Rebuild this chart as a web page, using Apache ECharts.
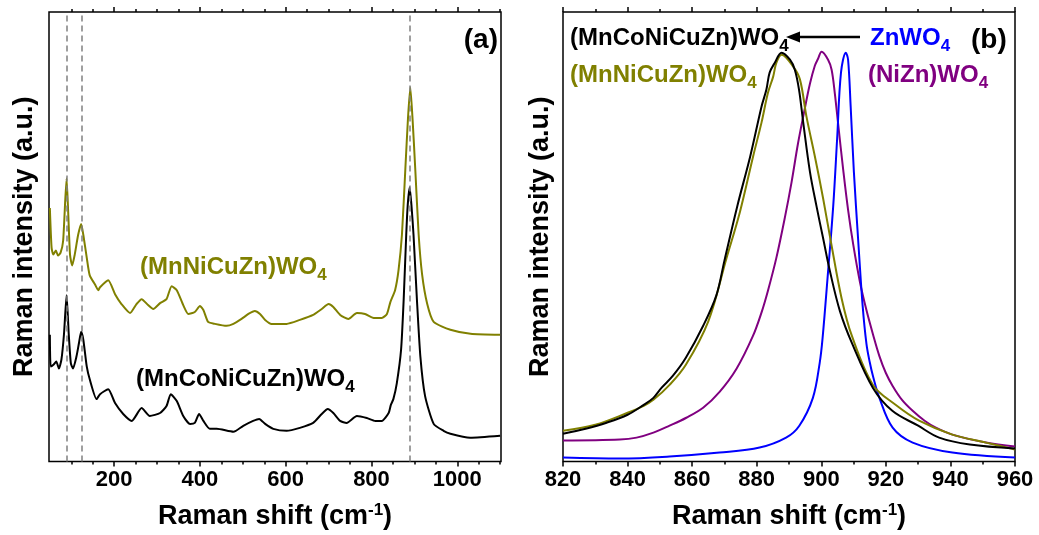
<!DOCTYPE html>
<html>
<head>
<meta charset="utf-8">
<script src="https://cdn.jsdelivr.net/npm/echarts@6/dist/echarts.min.js"></script>
<style>
html,body{margin:0;padding:0;background:#fff;}
#c{width:1039px;height:535px;}
</style>
</head>
<body>
<div id="c"></div>
<script>
// ---------- Panel (a): wide-range Raman spectra (x: cm-1, y: a.u.) ----------
const blackA = [[50,128],[52,96],[59,98],[65,101],[71,94],[77,103],[83,129],[89,168],[94,129],[99,99],[104,94],[112,106],[118,120],[123,131],[128,123],[136,96],[143,83],[159,63],[167,68],[186,73],[202,59],[221,48],[241,41],[264,54],[283,46],[307,49],[322,56],[332,68],[346,61],[361,46],[377,38],[388,39],[398,48],[408,41],[423,33],[439,33],[478,30],[501,36],[524,41],[538,43],[552,38],[571,33],[602,31],[633,34],[664,39],[684,48],[698,53],[711,49],[727,41],[742,39],[766,46],[789,44],[809,41],[824,41],[840,49],[845,57],[851,63],[859,79],[869,113],[875,163],[881,229],[884.5,259],[889,277],[893.5,257],[898,229],[906,163],[914,106],[925,66],[945,38],[968,31],[984,28],[1030,24],[1100,26]];
const oliveA = [[50,256],[54,216],[58,209],[64,213],[69,208],[75,211],[81,223],[89,286],[93,249],[97,209],[102,198],[108,209],[116,229],[123,240],[128,229],[136,206],[143,188],[155,179],[163,173],[167,176],[186,183],[202,169],[217,159],[237,150],[252,159],[264,164],[279,158],[291,154],[307,160],[322,164],[334,177],[346,173],[361,158],[373,149],[388,151],[400,157],[408,153],[419,141],[435,139],[462,137],[478,139],[497,144],[513,149],[528,152],[540,149],[552,143],[567,139],[602,139],[633,143],[664,148],[684,154],[700,159],[711,156],[727,148],[746,144],[766,150],[785,149],[805,145],[824,145],[836,149],[844,161],[855,173],[863,193],[871,229],[879,296],[885,346],[890.5,378],[896,344],[902,296],[910,229],[918,189],[930,159],[945,141],[984,133],[1031,129],[1100,128]];
const dashedA = [90, 124, 889];
const ticksMajorA = [200, 400, 600, 800, 1000];
const ticksMinorA = [100,150,250,300,350,450,500,550,650,700,750,850,900,950,1050,1100];

// ---------- Panel (b): zoom on main band ----------
const blackB = [[820,28],[827,33],[833.5,39],[840,47],[845,57],[848,64],[850.5,74],[854,86],[858,104],[863.5,137],[867.5,167],[870,202],[874,257],[878,307],[881.5,357],[883,374],[884,391],[885.6,401],[887.7,411],[890.3,404],[891.8,394],[893.1,374],[894.4,341],[896.5,291],[898.5,257],[900.6,224],[902.7,191],[905.8,151],[909.5,119],[916,74],[922,51],[930,36],[936.5,24],[946,17],[960,13]];
const oliveB = [[820,31],[830,37],[840,49],[845,56],[848,62],[853,77],[858,97],[865,141],[870.6,204],[874.8,251],[878.9,307],[881.5,341],[883.5,371],[885.1,387],[886.1,401],[887.7,409],[891.3,397],[893.4,384],[895.4,347],[898,307],[900.6,264],[903.2,217],[906.3,164],[909.4,127],[916,77],[923,57],[930.3,41],[940.6,27],[951,19],[960,12]];
const purpleB = [[820,21],[837.6,22],[842.8,24],[848,29],[853,36],[858.2,44],[863.4,54],[868.5,70],[873.7,93],[878.8,126],[881.5,150],[883.5,172],[886.1,205],[888.7,245],[890.8,281],[892.8,320],[894.9,355],[896.5,380],[898,398],[899,405],[900.1,412],[902.1,404],[903.2,394],[904.2,370],[905.2,340],[906.8,293],[908.3,253],[909.9,218],[912,180],[914,152],[916,128],[918,106],[920,89],[922.1,76],[925,62],[928.3,51],[932,41],[935.5,34],[940.6,27],[951,19],[960,15]];
const blueB = [[820,4],[837.6,3],[853,5],[868.5,9],[880.9,14],[889.1,24],[893.2,36],[897.4,64],[899.5,99],[900.4,124],[902.1,191],[903.7,257],[904.9,324],[906.1,391],[907.6,411],[908.3,404],[909.1,357],[910.1,291],[911.4,224],[912.8,157],[914,118],[915,100],[916,86],[918,64],[922.1,34],[928.3,19],[940.6,9],[960,4]];

const FONT = '"Liberation Sans", Arial, Helvetica, sans-serif';
const OLIVE = '#808000', PURPLE = '#800080', BLUE = '#0000ff', BLACK = '#000000';

const chart = echarts.init(document.getElementById('c'), null, {renderer: 'canvas'});

const tickStyle = {color: '#000', width: 1.5};
const labelStyle = {color: '#000', fontSize: 22, fontWeight: 'bold', fontFamily: FONT, margin: 7,
  formatter: v => String(v)};
const axisNameStyle = {
  color: '#000', fontSize: 27, fontWeight: 'bold', fontFamily: FONT,
  rich: {
    m: {fontSize: 27, fontWeight: 'bold', fontFamily: FONT, color: '#000', lineHeight: 30},
    s: {fontSize: 17, fontWeight: 'bold', fontFamily: FONT, color: '#000', lineHeight: 8, verticalAlign: 'top'}
  }
};
const xName = '{m|Raman shift (cm}{s|-1}{m|)}';

function xAx(grid, pos, opts) {
  return Object.assign({
    type: 'value', gridIndex: grid, position: pos,
    axisLine: {show: false},
    splitLine: {show: false},
    axisLabel: {show: false},
    axisTick: {show: false}
  }, opts);
}

function lab(text, x, y, color) {
  return {
    type: 'text', left: x, top: y, z: 100,
    style: {
      text: text,
      rich: {
        m: {fontSize: 24, fontWeight: 'bold', fontFamily: FONT, fill: color, lineHeight: 24, verticalAlign: 'top'},
        s: {fontSize: 17, fontWeight: 'bold', fontFamily: FONT, fill: color, lineHeight: 17,
            verticalAlign: 'top', padding: [12, 0, 0, 0]}
      }
    }
  };
}

const lineSeries = (xi, yi, data, color, z, smooth) => ({
  type: 'line', xAxisIndex: xi, yAxisIndex: yi, data: data, showSymbol: false, symbol: 'none',
  smooth: smooth, lineStyle: {color: color, width: 2}, z: z
});

const option = {
  animation: false,
  backgroundColor: '#fff',
  grid: [
    {left: 49, top: 12, width: 452, height: 454, show: true, borderColor: '#000', borderWidth: 1.5, containLabel: false},
    {left: 563, top: 12, width: 452, height: 452, show: true, borderColor: '#000', borderWidth: 1.5, containLabel: false}
  ],
  xAxis: [
    xAx(0, 'bottom', {min: 48, max: 1102,
      axisTick: {show: true, customValues: ticksMajorA, length: 5, lineStyle: tickStyle},
      axisLabel: Object.assign({show: true, customValues: ticksMajorA}, labelStyle),
      name: xName, nameLocation: 'middle', nameGap: 40, nameTextStyle: axisNameStyle}),
    xAx(0, 'bottom', {min: 48, max: 1102,
      axisTick: {show: true, customValues: ticksMinorA, length: 3, lineStyle: tickStyle}}),
    xAx(0, 'top', {min: 48, max: 1102,
      axisTick: {show: true, customValues: ticksMajorA, length: 5, lineStyle: tickStyle}}),
    xAx(0, 'top', {min: 48, max: 1102,
      axisTick: {show: true, customValues: ticksMinorA, length: 3, lineStyle: tickStyle}}),
    xAx(1, 'bottom', {min: 820, max: 960, interval: 20,
      axisTick: {show: true, length: 5, lineStyle: tickStyle},
      minorTick: {show: true, splitNumber: 2, length: 3, lineStyle: tickStyle},
      axisLabel: Object.assign({show: true}, labelStyle),
      name: xName, nameLocation: 'middle', nameGap: 40, nameTextStyle: axisNameStyle}),
    xAx(1, 'top', {min: 820, max: 960, interval: 20,
      axisTick: {show: true, length: 5, lineStyle: tickStyle},
      minorTick: {show: true, splitNumber: 2, length: 3, lineStyle: tickStyle}})
  ],
  yAxis: [
    {type: 'value', gridIndex: 0, min: 0, max: 454, axisLine: {show: false}, axisTick: {show: false},
     axisLabel: {show: false}, splitLine: {show: false},
     name: 'Raman intensity (a.u.)', nameLocation: 'middle', nameRotate: 90, nameGap: 11,
     nameTextStyle: {color: '#000', fontSize: 27, fontWeight: 'bold', fontFamily: FONT}},
    {type: 'value', gridIndex: 1, min: 0, max: 452, axisLine: {show: false}, axisTick: {show: false},
     axisLabel: {show: false}, splitLine: {show: false},
     name: 'Raman intensity (a.u.)', nameLocation: 'middle', nameRotate: 90, nameGap: 9,
     nameTextStyle: {color: '#000', fontSize: 27, fontWeight: 'bold', fontFamily: FONT}}
  ],
  series: [
    lineSeries(0, 0, oliveA, OLIVE, 3, 0.2),
    Object.assign(lineSeries(0, 0, blackA, BLACK, 4, 0.2), {
      markLine: {silent: true, symbol: ['none', 'none'], label: {show: false}, z: 10,
        lineStyle: {type: [6, 4], color: '#808080', width: 1.5},
        data: dashedA.map(v => ({xAxis: v}))}}),
    lineSeries(4, 1, purpleB, PURPLE, 3, 0.35),
    lineSeries(4, 1, blueB, BLUE, 4, 0.35),
    lineSeries(4, 1, oliveB, OLIVE, 5, 0.35),
    lineSeries(4, 1, blackB, BLACK, 6, 0.35)
  ],
  graphic: [
    lab('{m|(MnNiCuZn)WO}{s|4}', 140, 255, OLIVE),
    lab('{m|(MnCoNiCuZn)WO}{s|4}', 136, 367, BLACK),
    lab('{m|(MnCoNiCuZn)WO}{s|4}', 570, 26, BLACK),
    lab('{m|(MnNiCuZn)WO}{s|4}', 570, 63, OLIVE),
    lab('{m|ZnWO}{s|4}', 870, 26, BLUE),
    lab('{m|(NiZn)WO}{s|4}', 868, 63, PURPLE),
    {type: 'text', right: 1039 - 498, top: 26, z: 100,
     style: {text: '(a)', fontSize: 28, fontWeight: 'bold', fontFamily: FONT, fill: '#000'}},
    {type: 'text', left: 971, top: 26, z: 100,
     style: {text: '(b)', fontSize: 28, fontWeight: 'bold', fontFamily: FONT, fill: '#000'}},
    {type: 'line', z: 100, shape: {x1: 860, y1: 37, x2: 797, y2: 37}, style: {stroke: '#000', lineWidth: 2.5}},
    {type: 'polygon', z: 100, shape: {points: [[786, 37], [800, 31.5], [800, 42.5]]}, style: {fill: '#000'}}
  ]
};
chart.setOption(option);
</script>
</body>
</html>
